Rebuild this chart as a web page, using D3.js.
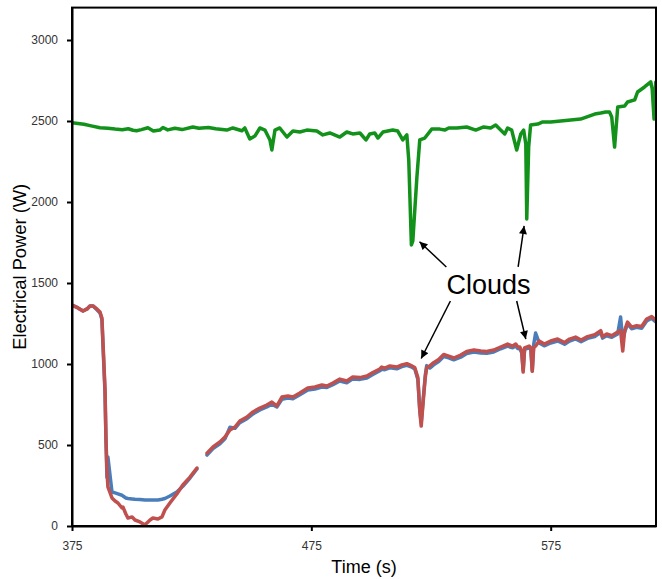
<!DOCTYPE html>
<html>
<head>
<meta charset="utf-8">
<script src="https://cdn.jsdelivr.net/npm/d3@7"></script>
<style>
  body { margin: 0; background: #fff; }
  svg { display: block; font-family: "Liberation Sans", Arial, sans-serif; }
</style>
</head>
<body>
<svg id="chart" width="662" height="579"></svg>
<script>
// time axis (s) for the two lower series; null marks the gap in the record
const pvTime = [375, 377.5, 379.6, 381.3, 382.5, 383.8, 385.4, 386.7, 387.5, 387.9,
  388.8, 389.2, 389.6, 390.0, 391.7, 393.0, 394.2, 395.9, 396.3, 397.5,
  398.4, 400.1, 401.3, 403.4, 405.5, 406.3, 407.6, 408.8, 410.9, 412.6,
  413.8, 415.9, 418.8, 421.3, 424.3, 427.2, 429.3, 431.4, 433.9, 436.8,
  438.9, 441.0, 443.1, 445.1, 448.1, 450.6, 453.5, 456.4, 458.5, 460.6,
  462.7, 465.2, 467.3, 470.2, 473.5, 476.5, 479.4, 481.5, 484.0, 486.9,
  489.8, 492.3, 495.3, 498.2, 500.7, 503.6, 504.4, 505.7, 507.8, 510.7,
  512.8, 514.9, 517.0, 518.2, 519.5, 520.3, 520.9, 522.0, 522.6, 523.2,
  524.5, 526.1, 528.2, 530.3, 532.4, 534.5, 537.4, 539.9, 542.9, 545.8,
  548.3, 551.2, 554.1, 557.0, 559.1, 560.4, 561.2, 562.1, 562.9, 563.5,
  564.1, 566.0, 566.7, 567.3, 567.9, 568.7, 570.2, 572.3, 575.0, 577.9,
  580.8, 582.9, 585.4, 587.7, 590.4, 593.4, 595.9, 596.7, 598.4, 600.5,
  603.0, 604.2, 605.1, 605.9, 607.1, 608.8, 610.9, 613.0, 615.1, 617.2,
  618.8];

const redPower = [1364, 1346, 1327, 1340, 1358, 1358, 1340, 1321, 1284, 1148,
  840, 531, 346, 241, 173, 154, 142, 111, 117, 74,
  49, 56, 37, 25, 6, 19, 37, 49, 43, 56,
  99, 142, 198, 253, 302, 358, null, 450, 488, 519,
  549, 593, 611, 648, 673, 704, 728, 747, 765, 741,
  796, 802, 796, 821, 852, 858, 870, 864, 883, 907,
  895, 920, 916, 926, 947, 969, 981, 975, 988, 981,
  994, 1002, 988, 978, 916, 710, 617, 815, 916, 978,
  988, 1008, 1028, 1059, 1049, 1037, 1055, 1077, 1086, 1080,
  1077, 1086, 1105, 1123, 1111, 1123, 1106, 1105, 1080, 950,
  1100, 1111, 1100, 955, 1100, 1111, 1142, 1123, 1142, 1154,
  1133, 1154, 1166, 1148, 1169, 1181, 1206, 1169, 1185, 1175,
  1197, 1206, 1080, 1206, 1259, 1228, 1237, 1231, 1278, 1293,
  1272];

const bluePower = [1364, 1346, 1327, 1340, 1358, 1358, 1335, 1315, 1275, 1130,
  820, 531, 300, 426, 210, 204, 198, 190, 185, 173,
  170, 167, 165, 163, 160, 160, 160, 160, 160, 165,
  170, 185, 210, 245, 296, 352, null, 438, 478, 508,
  538, 610, 603, 638, 662, 692, 716, 735, 752, 735,
  782, 790, 786, 810, 840, 846, 858, 855, 872, 895,
  884, 908, 905, 914, 935, 958, 968, 965, 976, 970,
  984, 992, 980, 970, 905, 720, 640, 830, 930, 990,
  975, 995, 1015, 1046, 1038, 1026, 1042, 1065, 1074, 1068,
  1066, 1074, 1094, 1110, 1100, 1111, 1096, 1094, 1070, 960,
  1090, 1100, 1090, 960, 1120, 1191, 1130, 1112, 1130, 1142,
  1122, 1142, 1155, 1138, 1158, 1170, 1195, 1160, 1174, 1165,
  1186, 1290, 1150, 1196, 1248, 1218, 1226, 1220, 1266, 1282,
  1262];

// time axis (s) and values for the upper series
const greenTime = [375, 380.0, 383.0, 386.7, 390.0, 393.0, 396.0, 398.5, 400.5, 402.0,
  404.0, 406.7, 409.0, 411.7, 413.0, 415.0, 418.0, 421.0, 425.5, 428.0,
  432.0, 435.0, 439.7, 442.2, 446.0, 447.2,
  449.3, 451.4, 453.5, 455.6, 457.7, 458.5, 459.8, 461.8, 464.8, 467.3,
  470.2, 473.1, 477.3, 479.8, 482.7, 486.9, 489.8, 492.3, 495.3, 497.8,
  499.4, 501.5, 502.8, 504.9, 509.0, 511.1, 513.2, 514.9, 515.7, 516.8,
  517.4, 519.1, 520.3, 522.4, 525.3, 528.7, 530.7, 532.4, 535.8, 539.9,
  543.7, 547.0, 549.9, 552.0, 554.1, 555.8, 557.0, 558.7, 560.8, 562.5,
  563.7, 564.6, 565.0, 565.8, 566.6, 569.6, 571.7, 575.0, 579.2, 583.4,
  587.5, 593.4, 595.9, 598.0, 599.6, 600.5, 601.7, 603.0, 605.9, 607.1,
  610.1, 611.3, 614.2, 616.8, 617.4, 618.2, 618.9];

const greenPower = [2490, 2480, 2470, 2458, 2455, 2450, 2446, 2452, 2443, 2440,
  2447, 2458, 2438, 2444, 2460, 2445, 2455, 2447, 2463, 2455,
  2460, 2452, 2444, 2457, 2440, 2457,
  2389, 2407, 2457, 2444, 2383, 2321, 2444, 2457, 2401, 2438,
  2432, 2444, 2438, 2414, 2426, 2401, 2432, 2420, 2426, 2383,
  2420, 2426, 2395, 2432, 2444, 2438, 2383, 2414, 2259, 1735,
  1760, 2154, 2383, 2395, 2450, 2450, 2444, 2457, 2457, 2463,
  2444, 2463, 2457, 2475, 2444, 2420, 2457, 2444, 2321, 2420,
  2444, 2358, 1895, 2339, 2475, 2481, 2494, 2494, 2500, 2506,
  2512, 2543, 2549, 2555, 2555, 2525, 2339, 2586, 2592, 2617,
  2630, 2679, 2710, 2741, 2700, 2512, 2740];

const xTicks = [375, 475, 575];
const yTicks = [0, 500, 1000, 1500, 2000, 2500, 3000];

// "Clouds" callout: label anchor and arrows [fromTime, fromW, toTime, toW]
const cloudLabel = { text: "Clouds", t: 549.0, w: 1432 };
const cloudArrows = [
  [531.4, 1599, 520.2, 1755],
  [561.4, 1599, 563.9, 1852],
  [533.1, 1389, 520.9, 1034],
  [560.8, 1389, 564.6, 1154]
];

const svg = d3.select("#chart");
const margin = { top: 7.6, right: 6, bottom: 53, left: 72 };
const W = 662, H = 579;

const x = d3.scaleLinear().domain([375, 619]).range([margin.left, W - margin.right]);
const y = d3.scaleLinear().domain([0, 3200]).range([H - margin.bottom, margin.top]);

svg.append("defs").append("clipPath").attr("id", "plotclip")
  .append("rect")
  .attr("x", x.range()[0]).attr("y", y.range()[1])
  .attr("width", x.range()[1] - x.range()[0])
  .attr("height", y.range()[0] - y.range()[1]);

svg.select("defs").append("marker")
  .attr("id", "arrowhead")
  .attr("markerUnits", "userSpaceOnUse")
  .attr("viewBox", "0 0 10 10")
  .attr("refX", 10).attr("refY", 5)
  .attr("markerWidth", 9).attr("markerHeight", 8)
  .attr("orient", "auto")
  .append("path").attr("d", "M0,0L10,5L0,10z").attr("fill", "#000");

const plot = svg.append("g").attr("clip-path", "url(#plotclip)");

const mkLine = (times) => d3.line()
  .defined(d => d != null)
  .x((d, i) => x(times[i]))
  .y(d => y(d))
  .curve(d3.curveLinear);

function drawSeries(times, values, color, width) {
  plot.append("path")
    .datum(values)
    .attr("fill", "none")
    .attr("stroke", color)
    .attr("stroke-width", width)
    .attr("stroke-linejoin", "round")
    .attr("stroke-linecap", "round")
    .attr("d", mkLine(times));
}

drawSeries(greenTime, greenPower, "#12921a", 3.5);
drawSeries(pvTime, bluePower, "#4a7ebb", 3.5);
drawSeries(pvTime, redPower, "#c0504d", 3.5);

// frame
svg.append("rect")
  .attr("x", x.range()[0]).attr("y", y.range()[1])
  .attr("width", x.range()[1] - x.range()[0])
  .attr("height", y.range()[0] - y.range()[1])
  .attr("fill", "none").attr("stroke", "#000").attr("stroke-width", 2);

const xAxis = svg.append("g")
  .attr("transform", `translate(0,${y.range()[0]})`)
  .call(d3.axisBottom(x).tickValues(xTicks).tickFormat(d3.format("d"))
    .tickSize(5).tickSizeOuter(0).tickPadding(10));

const yAxis = svg.append("g")
  .attr("transform", `translate(${x.range()[0]},0)`)
  .call(d3.axisLeft(y).tickValues(yTicks).tickFormat(d3.format("d"))
    .tickSize(5).tickSizeOuter(0).tickPadding(9));

[xAxis, yAxis].forEach(g => {
  g.select(".domain").attr("stroke", "#000").attr("stroke-width", 2);
  g.selectAll(".tick line").attr("stroke", "#000").attr("stroke-width", 2);
  g.selectAll(".tick text")
    .attr("fill", "#333")
    .style("font-size", "12px")
    .style("font-family", "'Liberation Sans', Arial, sans-serif");
});

// axis titles
svg.append("text")
  .attr("x", (x.range()[0] + x.range()[1]) / 2)
  .attr("y", 573)
  .attr("text-anchor", "middle")
  .style("font-size", "18px")
  .attr("fill", "#000")
  .text("Time (s)");

svg.append("text")
  .attr("transform", `translate(26,${(y.range()[0] + y.range()[1]) / 2}) rotate(-90)`)
  .attr("text-anchor", "middle")
  .attr("textLength", 166)
  .attr("lengthAdjust", "spacingAndGlyphs")
  .style("font-size", "18px")
  .attr("fill", "#000")
  .text("Electrical Power (W)");

// cloud annotation
svg.append("g").selectAll("line")
  .data(cloudArrows)
  .join("line")
  .attr("x1", d => x(d[0])).attr("y1", d => y(d[1]))
  .attr("x2", d => x(d[2])).attr("y2", d => y(d[3]))
  .attr("stroke", "#000")
  .attr("stroke-width", 1.5)
  .attr("marker-end", "url(#arrowhead)");

svg.append("text")
  .attr("x", x(cloudLabel.t))
  .attr("y", y(cloudLabel.w))
  .attr("text-anchor", "middle")
  .style("font-size", "27px")
  .attr("fill", "#000")
  .text(cloudLabel.text);
</script>
</body>
</html>
